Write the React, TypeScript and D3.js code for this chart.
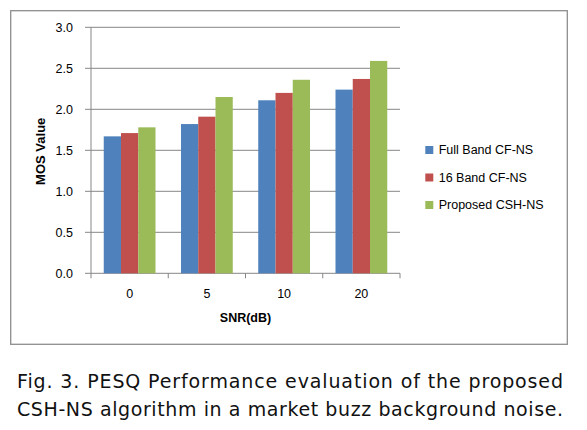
import React from "react";
import * as d3 from "d3";

const categories = ["0", "5", "10", "20"];
const seriesNames = ["Full Band CF-NS", "16 Band CF-NS", "Proposed CSH-NS"];
const fullBand = [1.67, 1.82, 2.11, 2.24];
const band16 = [1.71, 1.91, 2.2, 2.37];
const proposed = [1.78, 2.15, 2.36, 2.59];
const yTicks = [0, 0.5, 1.0, 1.5, 2.0, 2.5, 3.0];
const captionLines = [
  "Fig. 3. PESQ Performance evaluation of the proposed",
  "CSH-NS algorithm in a market buzz background noise.",
];

const colors = ["#4F81BD", "#C0504D", "#9BBB59"];
const seriesValues = [fullBand, band16, proposed];

export default function App() {
  const W = 587;
  const H = 430;
  const plotLeft = 91;
  const plotRight = 400;
  const plotTop = 27.3;
  const plotBottom = 273.3;

  const x = d3
    .scaleBand<string>()
    .domain(categories)
    .range([plotLeft, plotRight])
    .paddingInner(0.33)
    .paddingOuter(0.165);
  const xs = d3
    .scaleBand<string>()
    .domain(seriesNames)
    .range([0, x.bandwidth()])
    .padding(0);
  const y = d3.scaleLinear().domain([0, 3]).range([plotBottom, plotTop]);

  const step = (plotRight - plotLeft) / categories.length;
  const boundaries = d3.range(categories.length + 1).map((i) => plotLeft + i * step);

  const font = "'Liberation Sans', Arial, sans-serif";
  const capFont = "'DejaVu Sans', 'Liberation Sans', sans-serif";
  const gridColor = "#868686";

  return (
    <svg
      width={W}
      height={H}
      style={{ position: "absolute", left: 0, top: 0, background: "#fff" }}
    >
      <rect x={0} y={0} width={W} height={H} fill="#fff" />
      <rect
        x={10.7}
        y={10.7}
        width={556.6}
        height={333.6}
        fill="#fff"
        stroke="#8e8e8e"
        strokeWidth={1.3}
      />
      {yTicks.map((t) => (
        <line
          key={"g" + t}
          x1={plotLeft - 6}
          x2={plotRight}
          y1={y(t)}
          y2={y(t)}
          stroke={gridColor}
          strokeWidth={1}
        />
      ))}
      <line x1={plotLeft} x2={plotLeft} y1={plotTop} y2={plotBottom} stroke={gridColor} strokeWidth={1} />
      {boundaries.map((b, i) => (
        <line key={"xt" + i} x1={b} x2={b} y1={plotBottom} y2={plotBottom + 5} stroke={gridColor} strokeWidth={1} />
      ))}
      {categories.map((c, ci) =>
        seriesNames.map((s, si) => (
          <rect
            key={c + s}
            x={(x(c) as number) + (xs(s) as number)}
            y={y(seriesValues[si][ci])}
            width={xs.bandwidth()}
            height={plotBottom - y(seriesValues[si][ci])}
            fill={colors[si]}
          />
        ))
      )}
      {yTicks.map((t) => (
        <text
          key={"yl" + t}
          x={73}
          y={y(t)}
          dy="0.35em"
          textAnchor="end"
          fontFamily={font}
          fontSize={12.5}
          fill="#000"
        >
          {t.toFixed(1)}
        </text>
      ))}
      {categories.map((c) => (
        <text
          key={"xl" + c}
          x={(x(c) as number) + x.bandwidth() / 2}
          y={294}
          dy="0.35em"
          textAnchor="middle"
          fontFamily={font}
          fontSize={12.5}
          fill="#000"
        >
          {c}
        </text>
      ))}
      <text
        x={(plotLeft + plotRight) / 2}
        y={318}
        dy="0.35em"
        textAnchor="middle"
        fontFamily={font}
        fontSize={12.5}
        fontWeight="bold"
        fill="#000"
      >
        SNR(dB)
      </text>
      <text
        transform={`translate(40.7, ${(plotTop + plotBottom) / 2 + 1}) rotate(-90)`}
        dy="0.35em"
        textAnchor="middle"
        fontFamily={font}
        fontSize={13}
        fontWeight="bold"
        fill="#000"
      >
        MOS Value
      </text>
      {seriesNames.map((s, i) => {
        const cy = 150 + i * 27.5;
        return (
          <g key={"lg" + s}>
            <rect x={425.3} y={cy - 4} width={8} height={8} fill={colors[i]} />
            <text x={438.7} y={cy} dy="0.35em" fontFamily={font} fontSize={12.5} fill="#000">
              {s}
            </text>
          </g>
        );
      })}
      {captionLines.map((line, i) => (
        <text
          key={"cap" + i}
          x={17}
          y={388.3 + i * 27.9}
          fontFamily={capFont}
          fontSize={19}
          fill="#111"
          textLength={546}
          lengthAdjust="spacing"
        >
          {line}
        </text>
      ))}
    </svg>
  );
}
